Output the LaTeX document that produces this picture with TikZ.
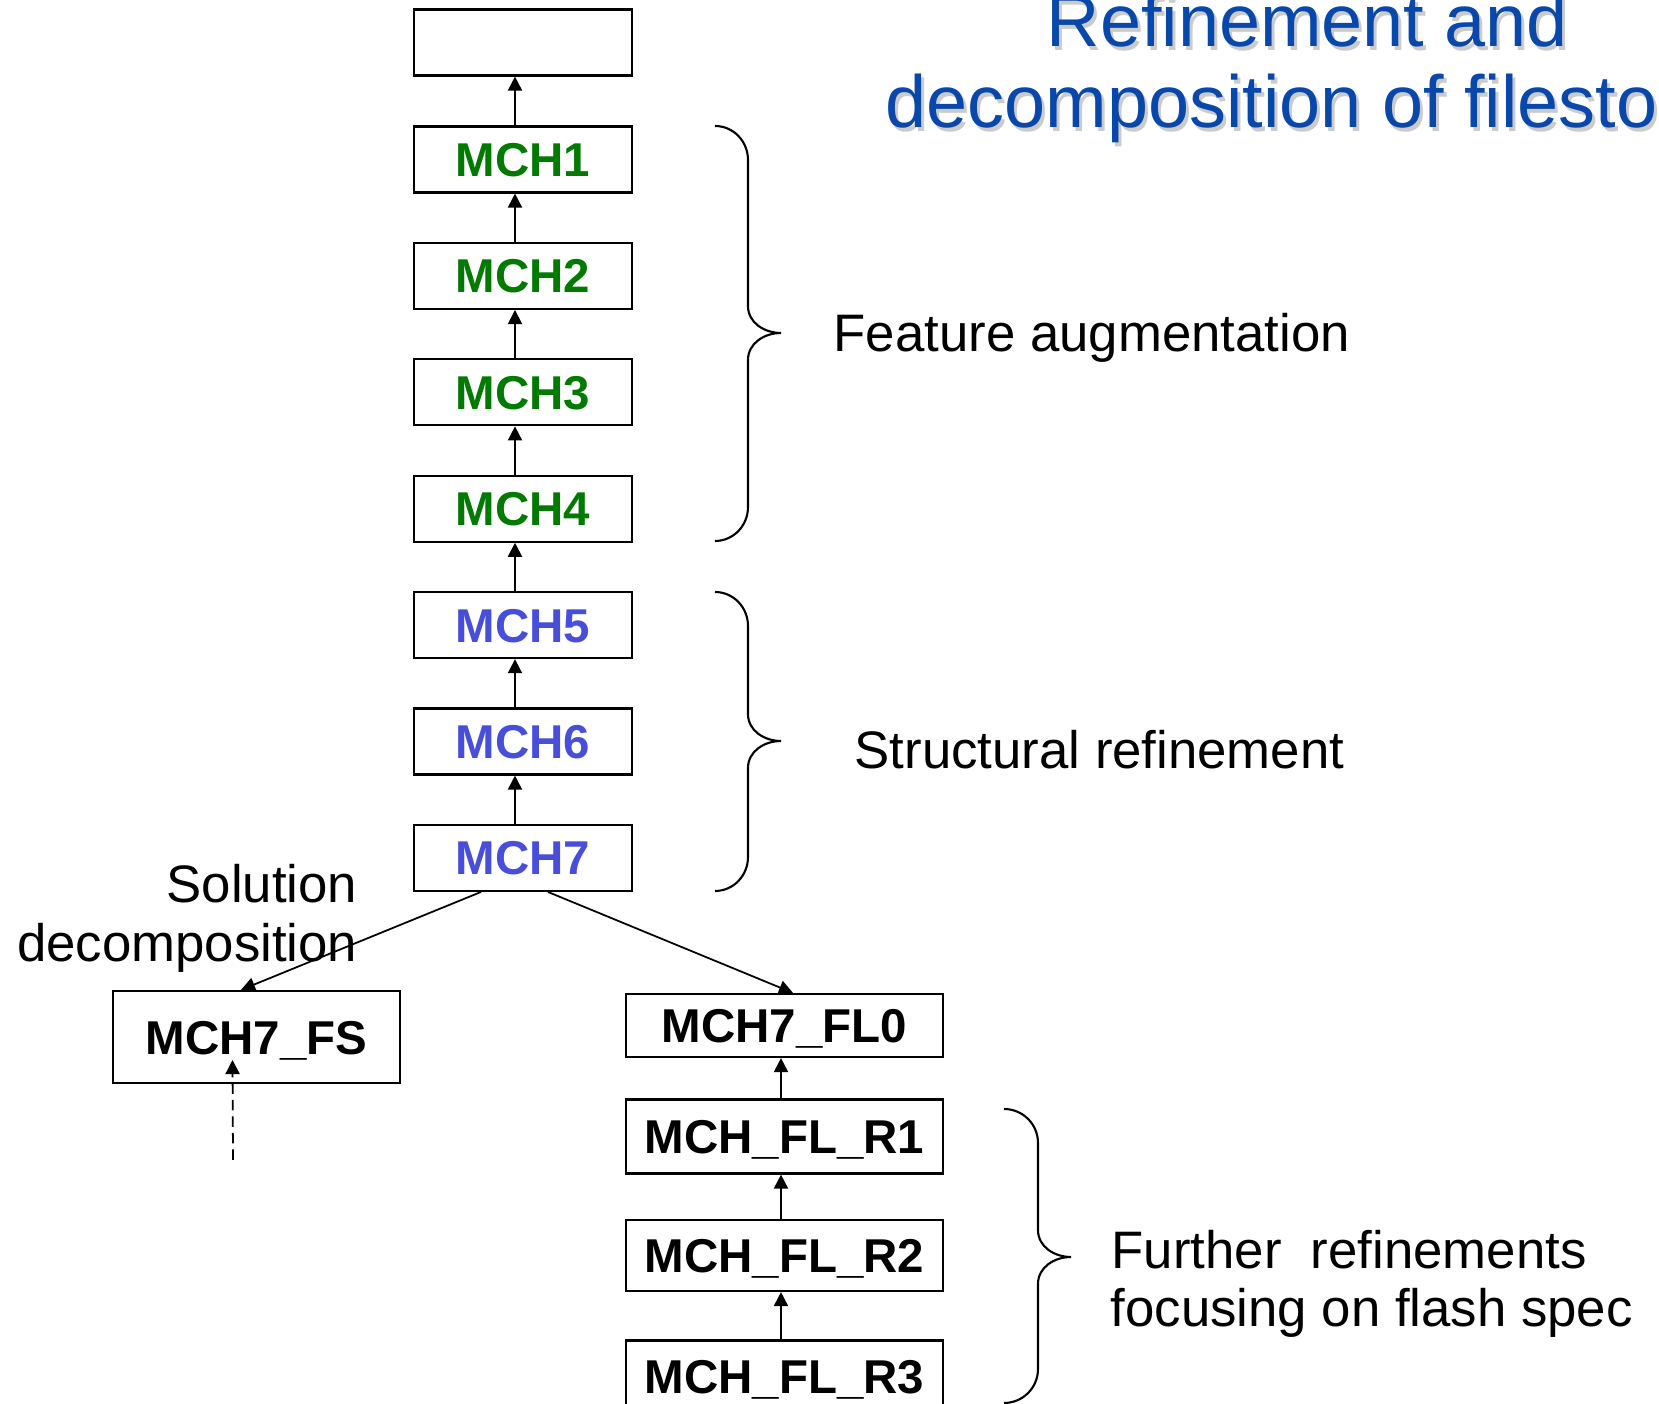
\documentclass[tikz,border=0pt]{standalone}
\usepackage{fontspec}
\setmainfont{Liberation Sans}
\usetikzlibrary{arrows.meta,calc}
\definecolor{mchgreen}{RGB}{0,122,0}
\definecolor{mchblue}{RGB}{70,78,218}
\definecolor{titleblue}{RGB}{8,72,170}

% curly brace opening to the right: #1 left end x, #2 spine x, #3 tip x,
% #4 top y, #5 tip y, #6 bottom y
\newcommand\curlybrace[6]{%
  \draw[brace] (#1,#4) to[out=0,in=90] (#2,#4+34) -- (#2,#5-27)
    to[out=-90,in=180] (#3,#5) to[out=180,in=90] (#2,#5+27)
    -- (#2,#6-34) to[out=-90,in=0] (#1,#6);}

\begin{document}
\begin{tikzpicture}[x=0.01cm,y=-0.01cm,
  box/.style={draw, line width=0.6pt, inner sep=0pt, fill=white,
    font=\fontsize{13.5}{16}\selectfont\bfseries,
    text height=9.7pt, text depth=0pt},
  colbox/.style={box, minimum width=2.18cm, minimum height=0.66cm},
  flbox/.style={box, minimum width=3.17cm},
  arr/.style={-{Triangle[length=4pt,width=4pt]}, line width=0.5pt},
  lbl/.style={font=\fontsize{15}{16.8}\selectfont, inner sep=0pt},
  ttl/.style={font=\fontsize{21}{23}\selectfont, inner sep=0pt},
  brace/.style={line width=0.6pt}]
\clip (0,0) rectangle (1659,1404);
\fill[white] (0,0) rectangle (1659,1404);

% title with drop shadow
\node[ttl, anchor=base west, text=black!45, opacity=0.45] at (1049,51) {Refinement and};
\node[ttl, anchor=base west, text=black!45, opacity=0.45] at (888,132) {decomposition of filesto};
\node[ttl, anchor=base west, text=titleblue] (t1) at (1046,47) {Refinement and};
\node[ttl, anchor=base west, text=titleblue] (t2) at (885,128) {decomposition of filesto};

% main column
\node[colbox] (top) at (523,42.5) {};
\node[colbox, text=mchgreen] (m1) at (523,159.5) {MCH1};
\node[colbox, text=mchgreen] (m2) at (523,275.9) {MCH2};
\node[colbox, text=mchgreen] (m3) at (523,392.3) {MCH3};
\node[colbox, text=mchgreen] (m4) at (523,508.7) {MCH4};
\node[colbox, text=mchblue] (m5) at (523,625.1) {MCH5};
\node[colbox, text=mchblue] (m6) at (523,741.5) {MCH6};
\node[colbox, text=mchblue] (m7) at (523,857.9) {MCH7};

\foreach \a/\b in {m1/top, m2/m1, m3/m2, m4/m3, m5/m4, m6/m5, m7/m6}
  \draw[arr] ($(\a.north)+(-8,0)$) -- ($(\b.south)+(-8,0)$);

% decomposed branches
\node[box, minimum width=2.87cm, minimum height=0.92cm] (fs) at (256.5,1037) {MCH7\_FS};
\node[flbox, minimum height=0.63cm] (fl0) at (784.5,1025.5) {MCH7\_FL0};
\node[flbox, minimum height=0.74cm] (r1) at (784.5,1136.5) {MCH\_FL\_R1};
\node[flbox, minimum height=0.71cm] (r2) at (784.5,1255.5) {MCH\_FL\_R2};
\node[flbox, minimum height=0.71cm] (r3) at (784.5,1376) {MCH\_FL\_R3};

\draw[arr] ($(m7.south)+(-42,0)$) -- ($(fs.north)+(-15.5,0)$);
\draw[arr] ($(m7.south)+(25,0)$) -- ($(fl0.north)+(8.5,0)$);

\foreach \a/\b in {r1/fl0, r2/r1, r3/r2}
  \draw[arr] ($(\a.north)+(-3.5,0)$) -- ($(\b.south)+(-3.5,0)$);

\coordinate (dtail) at (233,1160);
\draw[arr, dash pattern=on 3pt off 1.7pt] (dtail) -- ($(fs.center)+(-24,23)$);

% braces and their labels
\curlybrace{715}{748}{781}{126}{333}{541}
\curlybrace{715}{748}{781}{592}{741}{891}
\curlybrace{1004}{1038}{1071}{1109}{1257}{1403}

\node[lbl, anchor=base west] (fa) at (833,352) {Feature augmentation};
\node[lbl, anchor=base west] (sr) at (854,769) {Structural refinement};
\node[lbl, anchor=base east] (sd1) at (358,903) {Solution};
\node[lbl, anchor=base east] (sd2) at (358,962) {decomposition};
\node[lbl, anchor=base west] (fr1) at (1111,1269) {Further\ \ refinements};
\node[lbl, anchor=base west] (fr2) at (1110,1327) {focusing on flash spec};
\end{tikzpicture}
\end{document}
